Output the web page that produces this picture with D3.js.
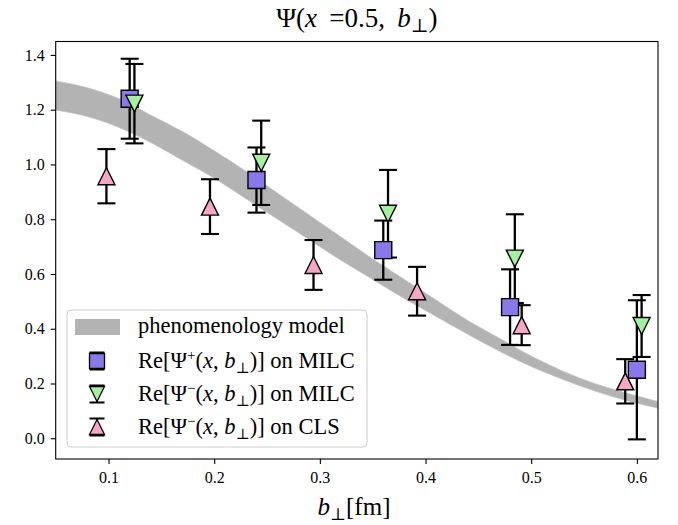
<!DOCTYPE html>
<html>
<head>
<meta charset="utf-8">
<script src="https://cdn.jsdelivr.net/npm/d3@7"></script>
<style>
  html, body { margin: 0; padding: 0; background: #fff; }
  svg text { font-family: "Liberation Serif", "DejaVu Serif", serif; fill: #000; }
</style>
</head>
<body>
<svg id="chart" width="678" height="525"></svg>
<script>
// ---------- data ----------
const xTicks = [0.1, 0.2, 0.3, 0.4, 0.5, 0.6];
const yTicks = [0.0, 0.2, 0.4, 0.6, 0.8, 1.0, 1.2, 1.4];

// phenomenology model band
const bandB     = [0.05, 0.08, 0.11, 0.14, 0.17, 0.20, 0.23, 0.26, 0.29, 0.32, 0.35, 0.38, 0.41, 0.44, 0.47, 0.50, 0.53, 0.56, 0.59, 0.62];
const bandUpper = [1.305, 1.28, 1.24, 1.18, 1.12, 1.05, 0.975, 0.895, 0.815, 0.735, 0.655, 0.58, 0.505, 0.43, 0.365, 0.30, 0.245, 0.20, 0.165, 0.134];
const bandLower = [1.199, 1.175, 1.135, 1.08, 1.015, 0.95, 0.875, 0.80, 0.725, 0.65, 0.58, 0.51, 0.445, 0.38, 0.318, 0.262, 0.215, 0.173, 0.138, 0.110];

// Re[Psi+] on MILC (squares)
const plusMilcB   = [0.12, 0.24, 0.36, 0.48, 0.60];
const plusMilcV   = [1.240, 0.943, 0.687, 0.479, 0.250];
const plusMilcErr = [0.146, 0.119, 0.108, 0.138, 0.254];

// Re[Psi-] on MILC (down triangles)
const minusMilcB   = [0.1245, 0.2445, 0.3645, 0.4845, 0.6045];
const minusMilcV   = [1.222, 1.006, 0.820, 0.656, 0.410];
const minusMilcErr = [0.145, 0.154, 0.160, 0.162, 0.113];

// Re[Psi-] on CLS (up triangles)
const minusClsB   = [0.098, 0.196, 0.294, 0.392, 0.491, 0.589];
const minusClsV   = [0.957, 0.846, 0.633, 0.537, 0.413, 0.208];
const minusClsErr = [0.099, 0.100, 0.091, 0.089, 0.073, 0.081];

// ---------- layout ----------
const plot = { left: 55.7, right: 658, top: 41.5, bottom: 459 };
const svg = d3.select("#chart");

const x = d3.scaleLinear().domain([0.05, 0.62]).range([plot.left, plot.right]);
const y = d3.scaleLinear().domain([-0.0757, 1.449]).range([plot.bottom, plot.top]);

// clip
svg.append("defs").append("clipPath").attr("id", "clip")
  .append("rect").attr("x", plot.left).attr("y", plot.top)
  .attr("width", plot.right - plot.left).attr("height", plot.bottom - plot.top);

// band
const bandData = bandB.map((b, i) => ({ b, lo: bandLower[i], hi: bandUpper[i] }));
svg.append("path")
  .datum(bandData)
  .attr("clip-path", "url(#clip)")
  .attr("fill", "#b3b3b4")
  .attr("stroke", "#c4c4c5")
  .attr("stroke-width", 0.8)
  .attr("d", d3.area().curve(d3.curveMonotoneX)
    .x(d => x(d.b)).y0(d => y(d.lo)).y1(d => y(d.hi)));

// series
const series = [
  { b: plusMilcB, v: plusMilcV, e: plusMilcErr, shape: "square", fill: "#8878ea" },
  { b: minusMilcB, v: minusMilcV, e: minusMilcErr, shape: "down", fill: "#a3f0a0" },
  { b: minusClsB, v: minusClsV, e: minusClsErr, shape: "up", fill: "#f8a6c6" }
];
const MS = 17, CAP = 9;

function markerPath(shape, s) {
  const h = s / 2;
  if (shape === "square") return `M${-h},${-h}H${h}V${h}H${-h}Z`;
  if (shape === "down") return `M0,${h}L${-h},${-h}L${h},${-h}Z`;
  return `M0,${-h}L${-h},${h}L${h},${h}Z`;
}

// error bars first (all series), then markers on top
const ebG = svg.append("g");
series.forEach(s => {
  const pts = s.b.map((b, i) => ({ b, v: s.v[i], e: s.e[i] }));
  const g = ebG.append("g");
  g.selectAll("line.bar").data(pts).join("line")
    .attr("x1", d => x(d.b)).attr("x2", d => x(d.b))
    .attr("y1", d => y(d.v - d.e)).attr("y2", d => y(d.v + d.e))
    .attr("stroke", "#000").attr("stroke-width", 2.3);
  ["lo", "hi"].forEach(k => {
    g.selectAll("line.cap" + k).data(pts).join("line")
      .attr("x1", d => x(d.b) - CAP).attr("x2", d => x(d.b) + CAP)
      .attr("y1", d => y(k === "lo" ? d.v - d.e : d.v + d.e))
      .attr("y2", d => y(k === "lo" ? d.v - d.e : d.v + d.e))
      .attr("stroke", "#000").attr("stroke-width", 2.1);
  });
});
const mkG = svg.append("g");
series.forEach(s => {
  const pts = s.b.map((b, i) => ({ b, v: s.v[i] }));
  mkG.append("g").selectAll("path").data(pts).join("path")
    .attr("transform", d => `translate(${x(d.b)},${y(d.v)})`)
    .attr("d", markerPath(s.shape, MS))
    .attr("fill", s.fill).attr("stroke", "#000").attr("stroke-width", 1.4)
    .attr("stroke-linejoin", "miter");
});

// axes
const xAxis = d3.axisBottom(x).tickValues(xTicks).tickFormat(d3.format(".1f")).tickSize(5).tickPadding(8);
const yAxis = d3.axisLeft(y).tickValues(yTicks).tickFormat(d3.format(".1f")).tickSize(5).tickPadding(6);
const gx = svg.append("g").attr("transform", `translate(0,${plot.bottom})`).call(xAxis);
const gy = svg.append("g").attr("transform", `translate(${plot.left},0)`).call(yAxis);
[gx, gy].forEach(g => {
  g.select(".domain").remove();
  g.selectAll("line").attr("stroke", "#000").attr("stroke-width", 1.1);
  g.selectAll("text").style("font-family", '"Liberation Serif", serif').style("font-size", "16px");
});

// frame
svg.append("rect")
  .attr("x", plot.left).attr("y", plot.top)
  .attr("width", plot.right - plot.left).attr("height", plot.bottom - plot.top)
  .attr("fill", "none").attr("stroke", "#000").attr("stroke-width", 1.1);

// title
const title = svg.append("text").attr("x", (plot.left + plot.right) / 2).attr("y", 27)
  .attr("text-anchor", "middle").style("font-size", "27px");
title.append("tspan").text("Ψ(");
title.append("tspan").style("font-style", "italic").text("x");
title.append("tspan").text("\u2009 =0.5,\u2009 ");
title.append("tspan").style("font-style", "italic").text("b");
title.append("tspan").attr("dy", 5).style("font-size", "19px").text("⊥");
title.append("tspan").attr("dy", -5).text(")");

// x label
const xl = svg.append("text").attr("x", 354).attr("y", 515)
  .attr("text-anchor", "middle").style("font-size", "25px");
xl.append("tspan").style("font-style", "italic").text("b");
xl.append("tspan").attr("dy", 5).style("font-size", "17px").text("⊥");
xl.append("tspan").attr("dy", -5).text("[fm]");

// legend
const leg = svg.append("g");
leg.append("rect").attr("x", 67).attr("y", 310).attr("width", 300).attr("height", 137)
  .attr("rx", 4).attr("fill", "#fff").attr("fill-opacity", 0.8)
  .attr("stroke", "#cccccc").attr("stroke-width", 1);
const rowY = [327, 361, 394, 427];
const textX = 138, handleX = 97;
leg.append("rect").attr("x", 75).attr("y", rowY[0] - 8).attr("width", 45).attr("height", 16)
  .attr("fill", "#b3b3b4");
const legLabels = [
  { sup: "+", tail: " on MILC" },
  { sup: "−", tail: " on MILC" },
  { sup: "−", tail: " on CLS" }
];
function addLabel(yy, parts) {
  const t = leg.append("text").attr("x", textX).attr("y", yy + 7).style("font-size", "22.5px");
  t.append("tspan").text("Re[Ψ");
  t.append("tspan").attr("dy", -8).style("font-size", "15px").text(parts.sup);
  t.append("tspan").attr("dy", 8).text("(");
  t.append("tspan").style("font-style", "italic").text("x");
  t.append("tspan").text(", ");
  t.append("tspan").style("font-style", "italic").text("b");
  t.append("tspan").attr("dy", 5).style("font-size", "15px").text("⊥");
  t.append("tspan").attr("dy", -5).text(")]" + parts.tail);
}
leg.append("text").attr("x", textX).attr("y", rowY[0] + 6).style("font-size", "22.5px")
  .text("phenomenology model");
series.forEach((s, i) => {
  const yy = rowY[i + 1];
  const hh = 8.5;
  leg.append("line").attr("x1", handleX).attr("x2", handleX).attr("y1", yy - hh).attr("y2", yy + hh)
    .attr("stroke", "#000").attr("stroke-width", 2);
  [-hh, hh].forEach(o => leg.append("line").attr("x1", handleX - 7.5).attr("x2", handleX + 7.5)
    .attr("y1", yy + o).attr("y2", yy + o).attr("stroke", "#000").attr("stroke-width", 2));
  leg.append("path").attr("transform", `translate(${handleX},${yy})`)
    .attr("d", markerPath(s.shape, 15))
    .attr("fill", s.fill).attr("stroke", "#000").attr("stroke-width", 1.3);
  addLabel(yy, legLabels[i]);
});
</script>
</body>
</html>
